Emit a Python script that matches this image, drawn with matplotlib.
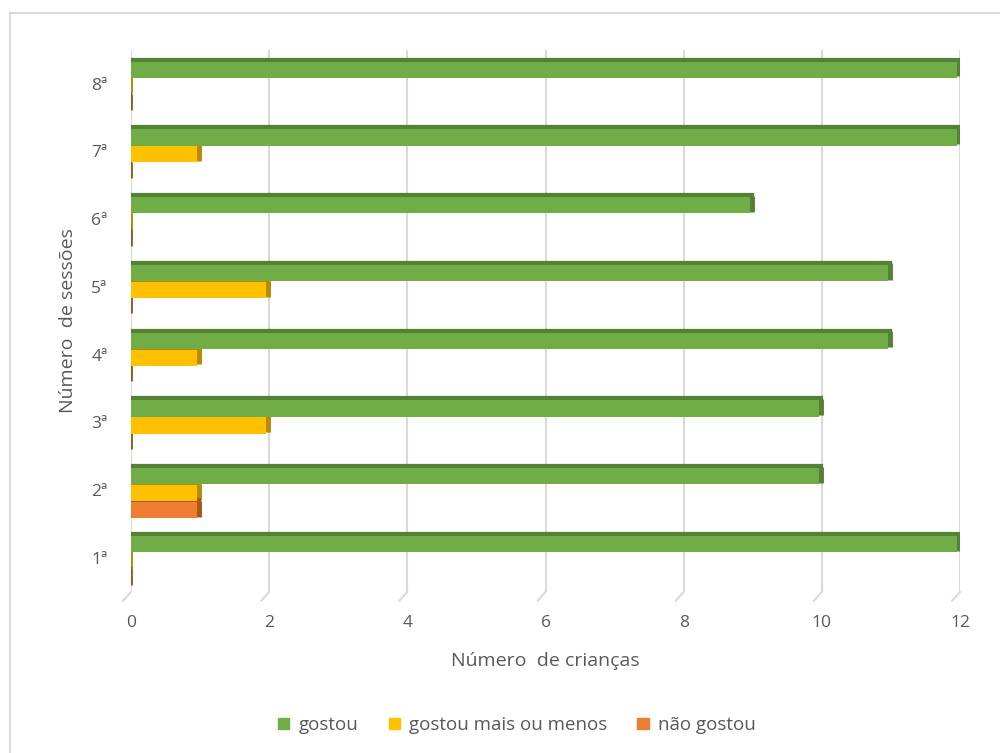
import numpy as np
import matplotlib
matplotlib.use("Agg")
import matplotlib.pyplot as plt
import matplotlib.transforms as mtransforms
from matplotlib.patches import Rectangle, Patch

plt.rcParams['font.family'] = ['Open Sans', 'DejaVu Sans']

# dados
sessoes = ['1ª', '2ª', '3ª', '4ª', '5ª', '6ª', '7ª', '8ª']
gostou = [12, 10, 10, 11, 11, 9, 12, 12]
mais_ou_menos = [0, 1, 2, 1, 2, 0, 1, 0]
nao_gostou = [0, 1, 0, 0, 0, 0, 0, 0]

series = [
    ('gostou', gostou, '#70AD47', '#548235'),
    ('gostou mais ou menos', mais_ou_menos, '#FFC000', '#B78A00'),
    ('não gostou', nao_gostou, '#ED7D31', '#A9561B'),
]

txt = '#595959'

fig = plt.figure(figsize=(10, 7.53), dpi=100)
# moldura do gráfico (só aparecem os lados esquerdo e superior)
fig.patches.append(Rectangle((0.010, -0.05), 1.2, 0.05 + 1 - 13 / 753,
                             transform=fig.transFigure, fill=False,
                             edgecolor='#d9d9d9', linewidth=1.5))

ax = fig.add_axes([0.131, 0.214, 0.829, 0.72])

y = np.arange(len(sessoes))
h = 0.24
offsets = [0.25, 0.0, -0.25]

# deslocamento da face frontal (efeito 3D)
front = mtransforms.offset_copy(ax.transData, fig=fig, x=-3, y=-3, units='dots')
lado = mtransforms.offset_copy(ax.transData, fig=fig, x=-1, y=-1.5, units='dots')

for (nome, vals, cor, escura), off in zip(series, offsets):
    # face de trás / topo escuro
    ax.barh(y + off, vals, height=h, color=escura, edgecolor=escura,
            linewidth=1.6, zorder=3)
    # face lateral (também visível nas barras de valor 0)
    ax.barh(y + off, 0, left=vals, height=h, color=escura, edgecolor=escura,
            linewidth=3.5, transform=lado, zorder=3)
    # face frontal
    ax.barh(y + off, vals, height=h, color=cor, linewidth=0,
            transform=front, zorder=4)

ax.set_xlim(0, 12)
ax.set_ylim(-0.5, 7.5)
ax.set_xticks(range(0, 13, 2))
ax.set_yticks(y)
ax.set_yticklabels(sessoes)
ax.tick_params(axis='both', length=0, labelsize=12.5, colors=txt)
ax.tick_params(axis='y', pad=17)
ax.tick_params(axis='x', pad=17)
for s in ax.spines.values():
    s.set_visible(False)
ax.xaxis.grid(True, color='#d9d9d9', linewidth=1.5, zorder=0)
ax.set_axisbelow(True)

# linhas do "chão" em perspectiva
for xt in range(0, 13, 2):
    ax.annotate('', xy=(xt, 0), xycoords=ax.get_xaxis_transform(),
                xytext=(-8, -9), textcoords='offset pixels',
                arrowprops=dict(arrowstyle='-', color='#d9d9d9', lw=1.5,
                                shrinkA=0, shrinkB=0))

ax.set_xlabel('Número  de crianças', fontsize=14, color=txt, labelpad=15)
ax.set_ylabel('Número  de sessões', fontsize=14, color=txt, labelpad=10)

handles = [Patch(facecolor=c, edgecolor=c) for _, _, c, _ in series]
fig.legend(handles, [s[0] for s in series], loc='center',
           bbox_to_anchor=(0.517, 0.037), ncol=3, frameon=False,
           fontsize=13.5, labelcolor=txt, handlelength=0.6, handleheight=0.6,
           handletextpad=0.5, columnspacing=1.6)

fig.savefig('out.png', dpi=100)
